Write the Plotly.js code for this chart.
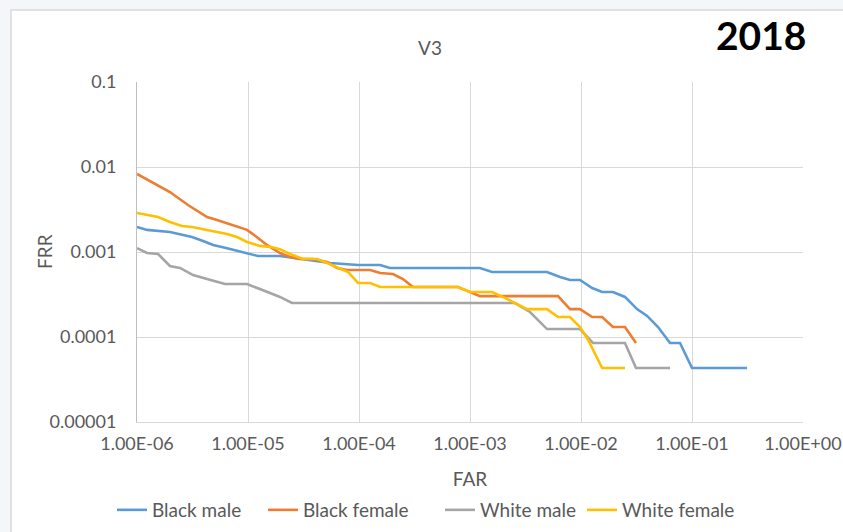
<!DOCTYPE html>
<html>
<head>
<meta charset="utf-8">
<script src="https://cdn.plot.ly/plotly-3.0.1.min.js"></script>
<style>
html,body{margin:0;padding:0;background:#ffffff;}
#chart{width:843px;height:532px;}
</style>
</head>
<body>
<div id="chart"></div>
<script>
// ---- Data ----
var seriesNames = ["Black male", "Black female", "White male", "White female"];
var seriesColors = ["#5B9BD5", "#ED7D31", "#A5A5A5", "#FFC000"];

var blackMaleFAR = [1.00e-6,1.23e-6,1.98e-6,2.44e-6,3.13e-6,3.94e-6,4.85e-6,6.48e-6,7.96e-6,9.80e-6,1.23e-5,1.94e-5,2.94e-5,5.48e-5,9.80e-5,1.55e-4,1.90e-4,1.23e-3,1.58e-3,4.94e-3,6.48e-3,7.96e-3,9.80e-3,1.26e-2,1.55e-2,1.94e-2,2.49e-2,3.20e-2,3.94e-2,4.94e-2,6.34e-2,7.80e-2,1.00e-1,3.13e-1];
var blackMaleFRR = [1.97e-3,1.82e-3,1.72e-3,1.63e-3,1.50e-3,1.35e-3,1.21e-3,1.11e-3,1.03e-3,9.73e-4,8.97e-4,8.97e-4,8.28e-4,7.42e-4,7.03e-4,7.03e-4,6.49e-4,6.49e-4,5.82e-4,5.82e-4,5.08e-4,4.69e-4,4.69e-4,3.77e-4,3.38e-4,3.38e-4,2.96e-4,2.13e-4,1.77e-4,1.31e-4,8.50e-5,8.50e-5,4.32e-5,4.32e-5];

var blackFemaleFAR = [1.00e-6,1.55e-6,1.98e-6,2.88e-6,4.28e-6,5.26e-6,7.33e-6,9.80e-6,1.20e-5,1.48e-5,1.94e-5,2.39e-5,2.94e-5,3.85e-5,5.15e-5,6.34e-5,7.80e-5,1.26e-4,1.55e-4,2.02e-4,2.49e-4,3.06e-4,7.79e-4,1.00e-3,1.23e-3,6.21e-3,7.96e-3,9.80e-3,1.26e-2,1.55e-2,1.94e-2,2.49e-2,3.13e-2];
var blackFemaleFRR = [8.28e-3,5.98e-3,5.08e-3,3.57e-3,2.58e-3,2.38e-3,2.08e-3,1.82e-3,1.50e-3,1.21e-3,9.73e-4,8.73e-4,8.28e-4,8.28e-4,7.63e-4,6.49e-4,6.14e-4,6.14e-4,5.66e-4,5.51e-4,4.81e-4,3.88e-4,3.88e-4,3.38e-4,3.03e-4,3.03e-4,2.13e-4,2.13e-4,1.72e-4,1.72e-4,1.31e-4,1.31e-4,8.50e-5];

var whiteMaleFAR = [1.00e-6,1.23e-6,1.55e-6,1.98e-6,2.44e-6,3.20e-6,4.28e-6,6.21e-6,9.80e-6,1.23e-5,1.58e-5,1.94e-5,2.49e-5,2.54e-3,3.47e-3,4.94e-3,9.80e-3,1.28e-2,2.49e-2,3.13e-2,6.34e-2];
var whiteMaleFRR = [1.11e-3,9.73e-4,9.47e-4,6.85e-4,6.49e-4,5.36e-4,4.81e-4,4.20e-4,4.20e-4,3.77e-4,3.29e-4,2.96e-4,2.51e-4,2.51e-4,1.97e-4,1.24e-4,1.24e-4,8.50e-5,8.50e-5,4.32e-5,4.32e-5];

var whiteFemaleFAR = [1.00e-6,1.55e-6,1.98e-6,2.54e-6,3.13e-6,3.86e-6,5.05e-6,6.48e-6,7.96e-6,9.80e-6,1.28e-5,1.58e-5,1.94e-5,2.39e-5,3.13e-5,4.19e-5,5.15e-5,6.34e-5,7.96e-5,9.80e-5,1.26e-4,1.55e-4,7.79e-4,1.00e-3,1.58e-3,1.98e-3,2.54e-3,3.26e-3,4.94e-3,6.21e-3,7.96e-3,9.80e-3,1.16e-2,1.55e-2,2.49e-2];
var whiteFemaleFRR = [2.88e-3,2.58e-3,2.25e-3,2.02e-3,1.97e-3,1.87e-3,1.72e-3,1.63e-3,1.50e-3,1.31e-3,1.18e-3,1.15e-3,1.08e-3,9.47e-4,8.28e-4,8.28e-4,7.42e-4,6.66e-4,5.82e-4,4.32e-4,4.32e-4,3.88e-4,3.88e-4,3.38e-4,3.38e-4,2.96e-4,2.51e-4,2.13e-4,2.13e-4,1.72e-4,1.72e-4,1.31e-4,9.22e-5,4.32e-5,4.32e-5];

var xTickVals = [1e-6, 1e-5, 1e-4, 1e-3, 1e-2, 1e-1, 1e0];
var xTickText = ["1.00E-06", "1.00E-05", "1.00E-04", "1.00E-03", "1.00E-02", "1.00E-01", "1.00E+00"];
var yTickVals = [1e-5, 1e-4, 1e-3, 1e-2, 1e-1];
var yTickText = ["0.00001", "0.0001", "0.001", "0.01", "0.1"];

var chartTitle = "V3";
var yearLabel = "2018";
var xTitle = "FAR";
var yTitle = "FRR";

// ---- Build traces ----
var xs = [blackMaleFAR, blackFemaleFAR, whiteMaleFAR, whiteFemaleFAR];
var ys = [blackMaleFRR, blackFemaleFRR, whiteMaleFRR, whiteFemaleFRR];
var legendIds = ["legend", "legend2", "legend3", "legend4"];
var traces = seriesNames.map(function (name, i) {
  return {
    type: "scatter",
    mode: "lines",
    name: name,
    x: xs[i],
    y: ys[i],
    legend: legendIds[i],
    line: {color: seriesColors[i], width: 2.6},
    hoverinfo: "x+y+name"
  };
});

var FONT = "Lato, 'Open Sans', sans-serif";
var TXT = "#595959";

// plot area: x 137..803 px, y 82..422 px
function pxX(px) { return (px - 137) / 666; }
function pxY(py) { return (422 - py) / 340; }

var layout = {
  width: 843,
  height: 532,
  margin: {l: 137, r: 40, t: 82, b: 110, pad: 0, autoexpand: false},
  paper_bgcolor: "#f3f7fa",
  plot_bgcolor: "#ffffff",
  font: {family: FONT, color: TXT, size: 18},
  showlegend: true,
  title: {
    text: chartTitle,
    font: {family: FONT, size: 19, color: TXT},
    x: 430 / 843, xanchor: "center", xref: "container",
    y: 1 - 48 / 532, yanchor: "middle", yref: "container"
  },
  xaxis: {
    type: "log",
    range: [-6, 0],
    tickvals: xTickVals,
    ticktext: xTickText,
    tickfont: {family: FONT, size: 18, color: TXT},
    showgrid: true,
    gridcolor: "#d9d9d9",
    gridwidth: 1,
    showline: true,
    linecolor: "#d9d9d9",
    linewidth: 1,
    zeroline: false,
    ticks: "",
    ticklabelstandoff: 5,
    automargin: false,
    title: {text: xTitle, font: {family: FONT, size: 19, color: TXT}, standoff: 20}
  },
  yaxis: {
    type: "log",
    range: [-5, -1],
    tickvals: yTickVals,
    ticktext: yTickText,
    tickfont: {family: FONT, size: 18, color: TXT},
    showgrid: true,
    gridcolor: "#d9d9d9",
    gridwidth: 1,
    showline: true,
    linecolor: "#bfbfbf",
    linewidth: 1,
    zeroline: false,
    ticks: "",
    ticklabelstandoff: 16,
    automargin: false
  },
  shapes: [{
    type: "rect", xref: "paper", yref: "paper", layer: "below",
    x0: pxX(11), x1: 1.2,
    y0: -0.5, y1: pxY(10),
    fillcolor: "#ffffff",
    line: {color: "#d9d9d9", width: 1.5}
  }],
  annotations: [
    {
      text: "<b>" + yearLabel + "</b>",
      xref: "paper", yref: "paper",
      x: pxX(761), y: pxY(35),
      xanchor: "center", yanchor: "middle",
      showarrow: false,
      font: {family: FONT, size: 39, color: "#000000"}
    },
    {
      text: yTitle,
      xref: "paper", yref: "paper",
      x: pxX(44), y: 0.5,
      xanchor: "center", yanchor: "middle",
      textangle: -90,
      showarrow: false,
      font: {family: FONT, size: 19, color: TXT}
    }
  ]
};

// one legend box per series, placed where each entry sits in the reference
var legendLeft = [112, 263, 440, 582];
legendIds.forEach(function (id, i) {
  layout[id] = {
    orientation: "h",
    x: pxX(legendLeft[i]), xanchor: "left", xref: "paper",
    y: pxY(510), yanchor: "middle", yref: "paper",
    font: {family: FONT, size: 19, color: TXT},
    bgcolor: "rgba(0,0,0,0)",
    borderwidth: 0,
    itemwidth: 30
  };
});

Plotly.newPlot("chart", traces, layout, {displayModeBar: false, staticPlot: false});
</script>
</body>
</html>
